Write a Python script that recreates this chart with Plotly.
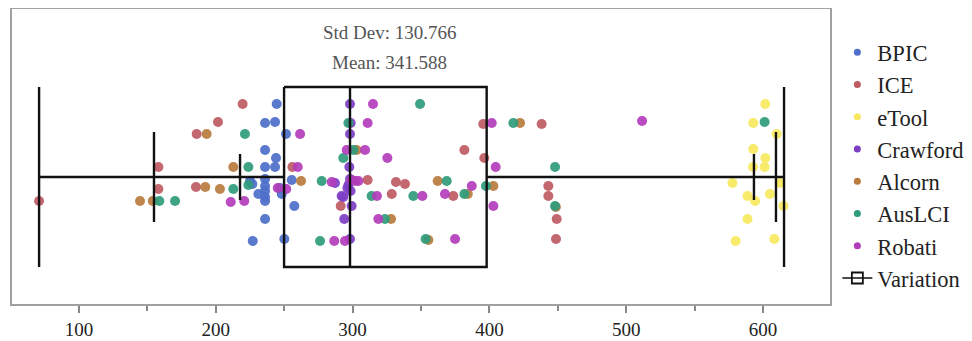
import plotly.graph_objects as go

# ---------------- data ----------------
series_names = ["BPIC", "ICE", "eTool", "Crawford", "Alcorn", "AusLCI", "Robati"]
series_colors = ["#4D6FC9", "#BF5B63", "#F7E85E", "#7E3FC4", "#B97B3E", "#2F9B7B", "#B23DBB"]

BPIC_x = [244.5, 236.0, 243.3, 251.3, 236.0, 244.0, 236.0, 243.3, 225.0, 226.7, 236.0, 236.0,
          236.0, 231.1, 236.0, 236.0, 246.9, 248.2, 255.5, 257.4, 236.0, 227.0, 250.1]
BPIC_y = [73, 54, 55, 43, 27, 19, 10, 10, -4, -7, -2, -9, -14, -17, -20, -24, -11, -17, -3, -29,
          -42, -64, -62]

ICE_x = [70.8, 158.0, 158.0, 186.0, 201.6, 219.6, 185.5, 256.0, 291.3, 311.0, 331.7, 338.3,
         328.6, 373.6, 381.7, 395.5, 396.3, 438.2, 443.1, 443.1, 449.2, 448.7]
ICE_y = [-24, 10, -12, 43, 55, 73, -10, 10, -29, -3, -5, -7, -17, -19, 27, 53, 19, 53, -9, -19,
         -42, -62]

eTool_x = [601.7, 592.9, 610.0, 592.9, 601.7, 592.7, 601.2, 577.7, 612.5, 588.7, 594.2, 605.1,
           615.0, 588.7, 580.0, 608.3]
eTool_y = [73, 54, 43, 28, 19, 10, 10, -6, -6, -19, -24, -17, -29, -42, -64, -62]

Crawford_x = [298.1, 298.6, 298.1, 297.6, 298.1, 297.0, 287.1, 293.2, 298.5, 299.3, 293.9,
              298.1, 292.0, 296.2]
Crawford_y = [73, 54, 43, 10, -2, -8, -6, -20, -14, -29, -42, -62, -19, -11]

Alcorn_x = [144.6, 153.9, 193.3, 192.3, 203.0, 212.8, 262.3, 303.0, 362.2, 384.2, 402.9, 422.4,
            328.1, 355.4, 448.6]
Alcorn_y = [-24, -24, 43, -10, -12, 10, -4, 27, -4, -17, -9, 54, -42, -63, -30]

AusLCI_x = [158.7, 170.2, 221.3, 223.8, 212.8, 223.8, 277.4, 276.2, 296.9, 293.2, 300.5, 313.9,
            323.7, 344.4, 349.3, 368.8, 381.7, 397.5, 417.5, 448.0, 448.0, 353.4, 601.2]
AusLCI_y = [-24, -24, 43, 10, -12, -8, -4, -64, 54, 19, 27, -19, -42, -19, 73, -4, -17, -9, 54,
            10, -29, -62, 55]

Robati_x = [259.9, 261.6, 245.3, 251.5, 210.9, 220.8, 284.7, 295.7, 299.3, 302.0, 304.2, 314.9,
            311.0, 309.1, 325.4, 317.8, 351.0, 367.5, 387.1, 401.7, 404.6, 402.9, 318.8, 374.9,
            286.6, 294.4, 511.6]
Robati_y = [10, 43, -11, -12, -25, -24, -5, 27, -3, -4, -4, 73, 54, 27, 19, -19, -19, -17, -9,
            54, 10, -29, -42, -62, -64, -64, 56]

series_x = [BPIC_x, ICE_x, eTool_x, Crawford_x, Alcorn_x, AusLCI_x, Robati_x]
series_y = [BPIC_y, ICE_y, eTool_y, Crawford_y, Alcorn_y, AusLCI_y, Robati_y]

# variation summary: min, p5, p10, q1, median, q3, p90, p95, max
var_min, var_p5, var_p10 = 70.8, 154.8, 217.7
var_q1, var_median, var_q3 = 249.9, 298.1, 398.0
var_p90, var_p95, var_max = 593.4, 609.5, 615.4
std_dev_label = "Std Dev: 130.766"
mean_label = "Mean: 341.588"

tick_vals = [100, 200, 300, 400, 500, 600]

# ---------------- figure ----------------
# (the page body adds an 8px offset, so the figure is 8px smaller on each axis)
FONT = "Liberation Serif, Times New Roman, serif"
fig = go.Figure()

for name, color, xs, ys in zip(series_names, series_colors, series_x, series_y):
    fig.add_trace(go.Scatter(
        x=xs, y=ys, mode="markers", name=name, showlegend=False,
        marker=dict(size=10, color=color, opacity=0.92, line=dict(width=0)),
    ))

# Variation glyph (built from summary values)
H_FULL, H_MID, H_SHORT = 90, 45, 23
vx, vy = [], []
def seg(x0, y0, x1, y1):
    vx.extend([x0, x1, None]); vy.extend([y0, y1, None])

seg(var_min, 0, var_q1, 0)
seg(var_q3, 0, var_max, 0)
for v, h in [(var_min, H_FULL), (var_max, H_FULL), (var_p5, H_MID), (var_p95, H_MID),
             (var_p10, H_SHORT), (var_p90, H_SHORT), (var_median, H_FULL)]:
    seg(v, -h, v, h)
vx.extend([var_q1, var_q3, var_q3, var_q1, var_q1, None])
vy.extend([H_FULL, H_FULL, -H_FULL, -H_FULL, H_FULL, None])

fig.add_trace(go.Scatter(x=vx, y=vy, mode="lines", showlegend=False, hoverinfo="skip",
                         line=dict(color="#111111", width=2.4)))

# legend entries
for name, color in zip(series_names, series_colors):
    fig.add_trace(go.Scatter(x=[None], y=[None], mode="markers", name=name,
                             marker=dict(size=7, color=color)))
fig.add_trace(go.Scatter(x=[None], y=[None], mode="lines+markers", name="Variation",
                         line=dict(color="#111111", width=1.5),
                         marker=dict(symbol="square-open", size=11, color="#111111",
                                     line=dict(width=1.8))))

fig.add_annotation(x=0.462, y=0.919, xref="paper", yref="paper", text=std_dev_label,
                   xanchor="center", yanchor="middle",
                   showarrow=False, font=dict(family=FONT, size=19, color="#555555"))
fig.add_annotation(x=0.462, y=0.817, xref="paper", yref="paper", text=mean_label,
                   xanchor="center", yanchor="middle",
                   showarrow=False, font=dict(family=FONT, size=19, color="#555555"))

fig.update_layout(
    width=964, height=333,
    margin=dict(l=4, r=142, t=1, b=37, autoexpand=False),
    paper_bgcolor="white", plot_bgcolor="white",
    font=dict(family=FONT, color="#222222"),
    showlegend=True,
    legend=dict(x=1.009, xanchor="left", y=0.925, yanchor="top",
                font=dict(family=FONT, size=22.5, color="#222222"),
                itemsizing="trace", tracegroupgap=0, bgcolor="rgba(0,0,0,0)"),
    xaxis=dict(range=[51, 649], tickvals=tick_vals, ticks="outside", ticklen=7,
               tickwidth=1.5, tickcolor="#888888", automargin=False,
               minor=dict(dtick=50, tick0=0, ticks="outside", ticklen=5, tickcolor="#888888"),
               showgrid=False, zeroline=False, showline=True, linecolor="#a0a0a0",
               linewidth=2, mirror=True, tickfont=dict(family=FONT, size=19, color="#222222")),
    yaxis=dict(range=[-127, 168], showticklabels=False, ticks="", showgrid=False,
               automargin=False,
               zeroline=False, showline=True, linecolor="#a0a0a0", linewidth=2, mirror=True),
)

fig.write_html("out.html")
